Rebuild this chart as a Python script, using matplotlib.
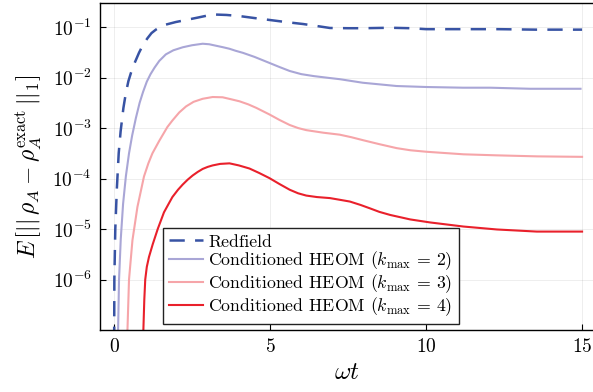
import matplotlib
matplotlib.use("Agg")
import matplotlib.pyplot as plt
from matplotlib.ticker import NullLocator, LogFormatterMathtext, FixedLocator

plt.rcParams['mathtext.fontset'] = 'cm'
plt.rcParams['font.family'] = 'serif'
plt.rcParams['font.serif'] = ['cmr10']
plt.rcParams['axes.unicode_minus'] = False
plt.rcParams['axes.formatter.use_mathtext'] = True
plt.rcParams['lines.scale_dashes'] = False

# ---------------- data ----------------
t_redfield = [0.0, 0.005, 0.01, 0.04, 0.09, 0.15, 0.21, 0.3, 0.38, 0.46, 0.54, 0.66, 0.8, 0.93,
              1.07, 1.2, 1.34, 1.5, 1.66, 1.98, 2.3, 2.7, 3.16, 3.6, 4.0, 4.5, 5.0, 5.5, 6.06,
              6.5, 6.92, 7.5, 8.0, 8.85, 9.5, 10.0, 11.0, 12.3, 13.5, 14.6, 15.0]
e_redfield = [1e-9, 1.0e-7, 1.0e-6, 1.0e-5, 6.3e-5, 3.2e-4, 8.5e-4, 2.5e-3, 5.0e-3, 8.5e-3,
              1.23e-2, 1.95e-2, 3.1e-2, 4.47e-2, 6.0e-2, 7.6e-2, 8.9e-2, 1.02e-1, 1.12e-1,
              1.26e-1, 1.38e-1, 1.55e-1, 1.78e-1, 1.74e-1, 1.66e-1, 1.51e-1, 1.38e-1,
              1.26e-1, 1.15e-1, 1.05e-1, 9.6e-2, 9.5e-2, 9.5e-2, 9.7e-2, 9.5e-2, 9.1e-2,
              9.1e-2, 9.1e-2, 8.9e-2, 8.9e-2, 8.9e-2]

t_k2 = [0.1, 0.13, 0.16, 0.215, 0.29, 0.38, 0.48, 0.58, 0.7, 0.82, 0.93, 1.05, 1.17,
        1.3, 1.45, 1.66, 1.9, 2.2, 2.5, 2.84, 3.05, 3.27, 3.5, 3.7, 3.9, 4.13, 4.5, 4.98,
        5.3, 5.63, 6.0, 6.4, 6.91, 7.23, 7.97, 9.06, 10.02, 11.19, 12.06, 13.34, 14.95]
e_k2 = [3e-9, 1.0e-7, 1.0e-6, 6.3e-6, 3.16e-5, 1.12e-4, 3.16e-4, 7.1e-4, 1.58e-3,
        3.16e-3, 5.2e-3, 8.3e-3, 1.17e-2, 1.58e-2, 2.14e-2, 2.88e-2, 3.47e-2, 3.98e-2,
        4.37e-2, 4.68e-2, 4.57e-2, 4.27e-2, 3.98e-2, 3.72e-2, 3.39e-2, 3.09e-2, 2.57e-2,
        1.95e-2, 1.62e-2, 1.35e-2, 1.17e-2, 1.07e-2, 9.8e-3, 9.3e-3, 7.9e-3, 6.8e-3,
        6.5e-3, 6.3e-3, 6.3e-3, 6.0e-3, 6.0e-3]

t_k3 = [0.4, 0.43, 0.48, 0.59, 0.75, 0.96, 1.1, 1.23, 1.45, 1.71, 1.87, 2.09, 2.31, 2.55,
        2.84, 3.16, 3.48, 3.75, 4.02, 4.3, 4.56, 4.98, 5.3, 5.63, 5.9, 6.16, 6.7, 7.23, 7.6,
        7.98, 8.5, 9.06, 9.5, 10.02, 11.2, 12.27, 13.56, 15.0]
e_k3 = [1e-8, 1.0e-7, 1.0e-6, 6.0e-6, 2.75e-5, 1.1e-4, 2.0e-4, 3.16e-4, 5.6e-4, 1.05e-3,
        1.41e-3, 2.04e-3, 2.69e-3, 3.31e-3, 3.8e-3, 4.12e-3, 4.07e-3, 3.72e-3, 3.39e-3,
        2.95e-3, 2.51e-3, 1.86e-3, 1.45e-3, 1.15e-3, 1.0e-3, 9.1e-4, 8.1e-4, 7.4e-4,
        6.6e-4, 5.75e-4, 4.8e-4, 4.0e-4, 3.63e-4, 3.39e-4, 3.02e-4, 2.88e-4, 2.75e-4,
        2.69e-4]

t_k4 = [0.9, 0.94, 0.97, 1.0, 1.05, 1.12, 1.24, 1.4, 1.6, 1.75, 1.87, 2.05, 2.2, 2.36, 2.52,
        2.68, 2.84, 3.0, 3.16, 3.4, 3.7, 4.0, 4.34, 4.65, 4.98, 5.3, 5.63, 5.9, 6.16, 6.5,
        6.92, 7.23, 7.56, 7.9, 8.2, 8.5, 8.85, 9.2, 9.49, 10.13, 11.2, 12.27, 13.55, 15.0]
e_k4 = [1e-8, 1.0e-7, 4.0e-7, 1.0e-6, 1.78e-6, 2.8e-6, 5.0e-6, 1.0e-5, 2.14e-5, 3.16e-5,
        4.3e-5, 6.0e-5, 7.6e-5, 9.5e-5, 1.15e-4, 1.35e-4, 1.55e-4, 1.7e-4, 1.82e-4, 1.95e-4,
        2.0e-4, 1.82e-4, 1.58e-4, 1.29e-4, 1.02e-4, 7.8e-5, 6.0e-5, 5.1e-5, 4.6e-5,
        4.3e-5, 4.1e-5, 3.8e-5, 3.5e-5, 3.0e-5, 2.57e-5, 2.19e-5, 1.9e-5, 1.7e-5,
        1.55e-5, 1.35e-5, 1.12e-5, 9.8e-6, 8.9e-6, 8.9e-6]

labels = ["Redfield",
          r"Conditioned HEOM ($k_{\mathrm{max}}$ = 2)",
          r"Conditioned HEOM ($k_{\mathrm{max}}$ = 3)",
          r"Conditioned HEOM ($k_{\mathrm{max}}$ = 4)"]
x_ticks = [0, 5, 10, 15]
y_ticks = [1e-6, 1e-5, 1e-4, 1e-3, 1e-2, 1e-1]

# ---------------- figure ----------------
fig = plt.figure(figsize=(5.93, 3.92), dpi=100)
ax = fig.add_axes([100/593, 1 - 330/392, 493/593, 327/392])

ax.plot(t_redfield, e_redfield, color='#3853a4', lw=1.8, dashes=(11, 7.4), label=labels[0])
ax.plot(t_k2, e_k2, color='#a9a6d6', lw=1.5, label=labels[1])
ax.plot(t_k3, e_k3, color='#f6a5a9', lw=1.5, label=labels[2])
ax.plot(t_k4, e_k4, color='#e9202b', lw=1.5, label=labels[3])

ax.set_yscale('log')
ax.set_xlim(-0.45, 15.35)
ax.set_ylim(1.0e-7, 0.30)
ax.xaxis.set_major_locator(FixedLocator(x_ticks))
ax.yaxis.set_major_locator(FixedLocator(y_ticks))
ax.yaxis.set_minor_locator(NullLocator())
ax.yaxis.set_major_formatter(LogFormatterMathtext())
ax.tick_params(direction='in', length=4, width=0.8, labelsize=14, pad=6)
ax.grid(True, color='black', alpha=0.08, lw=0.6)
ax.spines['right'].set_visible(False)
for s in ['left', 'bottom', 'top']:
    ax.spines[s].set_linewidth(1.0)

ax.set_xlabel(r'$\omega t$', fontsize=18, labelpad=4)
ax.set_ylabel(r'$E\,\left[||\,\rho_A - \rho_A^{\mathrm{exact}}\,||_1\right]$', fontsize=17, labelpad=6)

leg = ax.legend(loc='upper left', bbox_to_anchor=(63/493, 102/327), borderaxespad=0,
                fontsize=12.8, frameon=True, fancybox=False, framealpha=1, edgecolor='#222222',
                handlelength=1.9, handletextpad=0.3, labelspacing=0.0, borderpad=0.35)
leg.get_frame().set_linewidth(1.0)

fig.savefig('out.png', dpi=100)
